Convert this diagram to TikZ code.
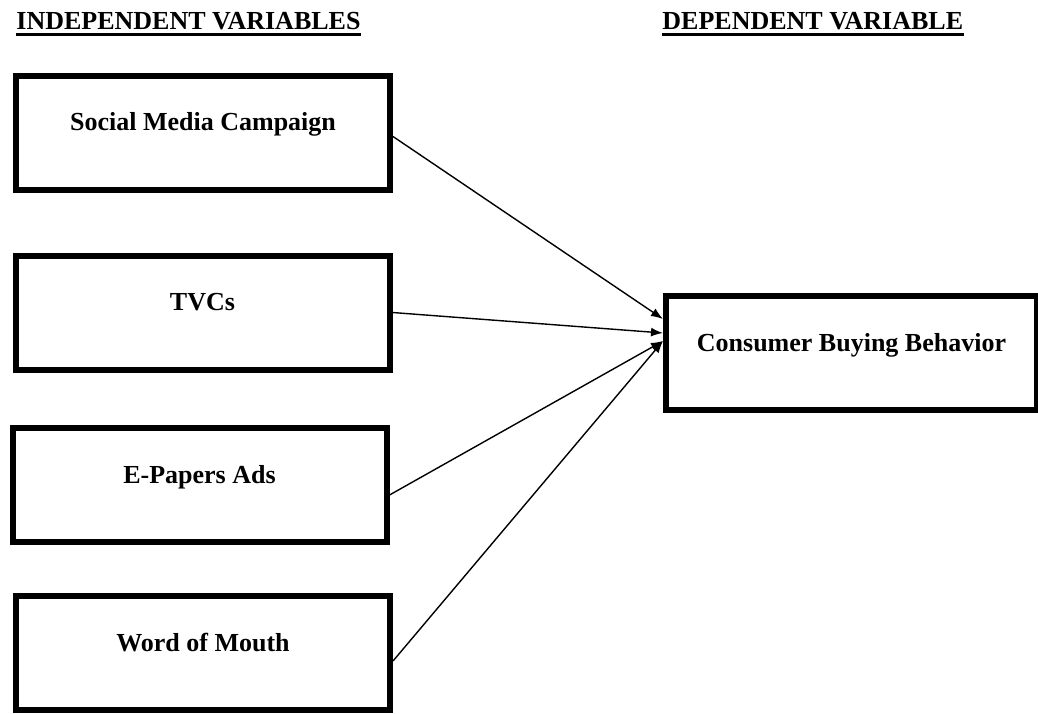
\documentclass[tikz,border=0pt]{standalone}
\usepackage{fontspec}
\setmainfont{Liberation Serif}
\usetikzlibrary{arrows.meta}
\begin{document}
\begin{tikzpicture}[>={Latex[length=6pt,width=4.5pt]}, x=0.5pt, y=-0.5pt,
  var/.style={draw, line width=3pt, minimum width=187pt, minimum height=57pt,
    text height=4pt, text depth=6pt, font=\fontsize{13}{15}\selectfont\bfseries},
  head/.style={inner sep=0pt, anchor=base west, font=\fontsize{13}{15}\selectfont\bfseries},
  link/.style={->, line width=0.7pt}]
\useasboundingbox (0,0) rectangle (1038,713);

\node [head] (indep) at (16,29) {INDEPENDENT VARIABLES};
\node [head] (dep) at (662,29) {DEPENDENT VARIABLE};
\draw [line width=1.6pt] ([yshift=-2.8pt]indep.base west) -- ([yshift=-2.8pt]indep.base east);
\draw [line width=1.6pt] ([yshift=-2.8pt]dep.base west) -- ([yshift=-2.8pt]dep.base east);

\node [var] (smc) at (203,132.5) {Social Media Campaign};
\node [var] (tvc) at (202.5,312.5) {TVCs};
\node [var] (epa) at (199.5,485) {E-Papers Ads};
\node [var] (wom) at (203,653) {Word of Mouth};
\node [var, minimum width=185.5pt] (cbb) at (851.5,353) {Consumer Buying Behavior};

\draw [link] ([yshift=-2pt]smc.east) -- ([yshift=17pt]cbb.west);
\draw [link] (tvc.east) -- ([yshift=10pt]cbb.west);
\draw [link] ([yshift=-5pt]epa.east) -- ([yshift=6pt]cbb.west);
\draw [link] ([yshift=-4pt]wom.east) -- ([yshift=6pt]cbb.west);

\end{tikzpicture}
\end{document}
